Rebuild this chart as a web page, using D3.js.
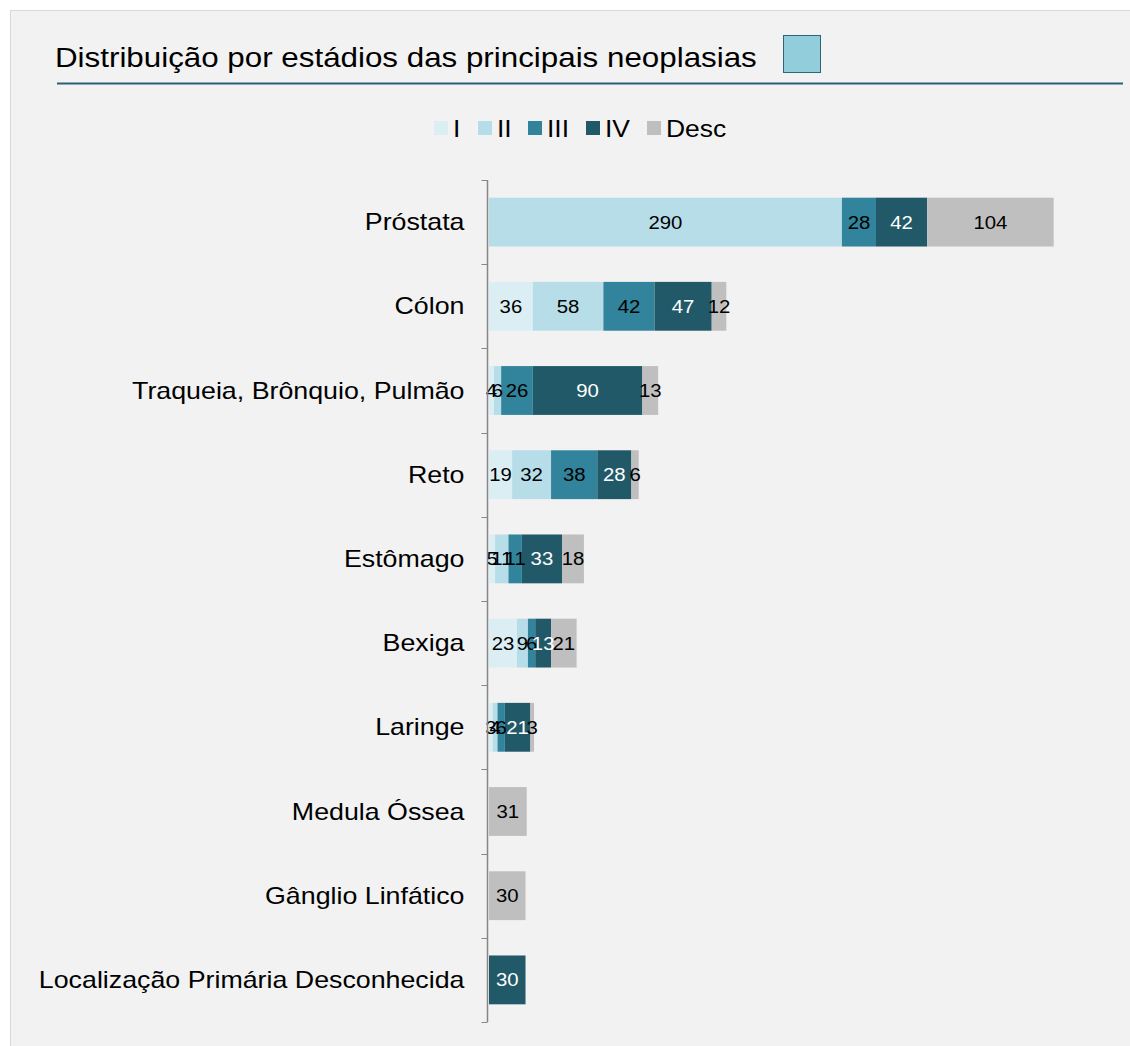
<!DOCTYPE html>
<html>
<head>
<meta charset="utf-8">
<script src="https://cdn.jsdelivr.net/npm/d3@7"></script>
<style>
  html, body { margin: 0; padding: 0; background: #ffffff; }
  svg { display: block; font-family: "Liberation Sans", Arial, sans-serif; }
</style>
</head>
<body>
<svg id="chart" width="1130" height="1046"></svg>
<script>
// Neoplasm sites, top to bottom
const categories = [
  "Próstata", "Cólon", "Traqueia, Brônquio, Pulmão", "Reto", "Estômago",
  "Bexiga", "Laringe", "Medula Óssea", "Gânglio Linfático",
  "Localização Primária Desconhecida"
];
// Stage names shown in the legend
const stages = ["I", "II", "III", "IV", "Desc"];
// Case counts per stage, one value per site
const stageI    = [0,   36, 4,  19, 5,  23, 3,  0,  0,  0];
const stageII   = [290, 58, 6,  32, 11, 9,  4,  0,  0,  0];
const stageIII  = [28,  42, 26, 38, 11, 6,  6,  0,  0,  0];
const stageIV   = [42,  47, 90, 28, 33, 13, 21, 0,  0,  30];
const stageDesc = [104, 12, 13, 6,  18, 21, 3,  31, 30, 0];

const colors = ["#dbeef4", "#b7dde8", "#31849b", "#215968", "#bfbfbf"];
const labelColors = ["#000", "#000", "#000", "#fff", "#000"];

const svg = d3.select("#chart");

// text placed at (x, y) and widened horizontally by sx
function wideText(parent, x, y, sx, size, anchor, str) {
  return parent.append("text")
    .attr("transform", `translate(${x},${y}) scale(${sx},1)`)
    .attr("font-size", size)
    .attr("text-anchor", anchor)
    .text(str);
}

// panel
svg.append("rect")
  .attr("x", 10.5).attr("y", 10.5).attr("width", 1130).attr("height", 1046)
  .attr("fill", "#f2f2f2").attr("stroke", "#d9d9d9").attr("stroke-width", 1);

// title
wideText(svg, 55, 67, 1.1, 28.5, "start", "Distribuição por estádios das principais neoplasias")
  .attr("fill", "#000");
svg.append("rect")
  .attr("x", 783.5).attr("y", 35.5).attr("width", 37).attr("height", 37)
  .attr("fill", "#92cddc").attr("stroke", "#31637a").attr("stroke-width", 1);
svg.append("line")
  .attr("x1", 57).attr("x2", 1123).attr("y1", 83.5).attr("y2", 83.5)
  .attr("stroke", "#2c5f73").attr("stroke-width", 2);

// legend
const legendX = [434, 478, 528, 586, 647];
const legend = svg.append("g");
stages.forEach((s, i) => {
  legend.append("rect")
    .attr("x", legendX[i]).attr("y", 121).attr("width", 14).attr("height", 14)
    .attr("fill", colors[i]);
  wideText(legend, legendX[i] + 19, 137, 1.15, 23, "start", s).attr("fill", "#000");
});

// scales
const x = d3.scaleLinear().domain([0, 500]).range([489, 1097.5]);
const y = d3.scaleBand().domain(categories).range([180, 1022]).paddingInner(0.42).paddingOuter(0.21);

const seriesArrays = [stageI, stageII, stageIII, stageIV, stageDesc];
const rows = categories.map((c, i) => {
  const r = { cat: c };
  stages.forEach((s, k) => r[s] = seriesArrays[k][i]);
  return r;
});
const stacked = d3.stack().keys(stages)(rows);

// bars
const layers = svg.append("g").selectAll("g").data(stacked).join("g")
  .attr("fill", (d, i) => colors[i]);
layers.selectAll("rect").data(d => d.filter(p => p[1] - p[0] > 0)).join("rect")
  .attr("x", d => x(d[0]))
  .attr("y", d => y(d.data.cat))
  .attr("width", d => x(d[1]) - x(d[0]))
  .attr("height", y.bandwidth());

// value labels
const labels = svg.append("g").selectAll("g").data(stacked).join("g")
  .attr("fill", (d, i) => labelColors[i]);
labels.selectAll("text").data(d => d.filter(p => p[1] - p[0] > 0)).join("text")
  .attr("transform", d => `translate(${(x(d[0]) + x(d[1])) / 2},${y(d.data.cat) + y.bandwidth() / 2 + 6.5}) scale(1.1,1)`)
  .attr("text-anchor", "middle")
  .attr("font-size", 18.5)
  .text(d => d[1] - d[0]);

// vertical category axis
const axis = svg.append("g").attr("transform", "translate(487.5,0)");
axis.append("line").attr("y1", 180).attr("y2", 1022).attr("stroke", "#868686").attr("stroke-width", 1.5);
const boundaries = categories.map(c => y(c) - y.step() * y.paddingInner() / 2).concat([1022]);
axis.selectAll("line.tick").data(boundaries).join("line")
  .attr("class", "tick")
  .attr("x1", -6).attr("x2", 0)
  .attr("y1", d => Math.round(d) + 0.5).attr("y2", d => Math.round(d) + 0.5)
  .attr("stroke", "#868686").attr("stroke-width", 1);
categories.forEach(c => {
  wideText(axis, -23, y(c) + y.bandwidth() / 2 + 8, 1.165, 23, "end", c).attr("fill", "#000");
});
</script>
</body>
</html>
